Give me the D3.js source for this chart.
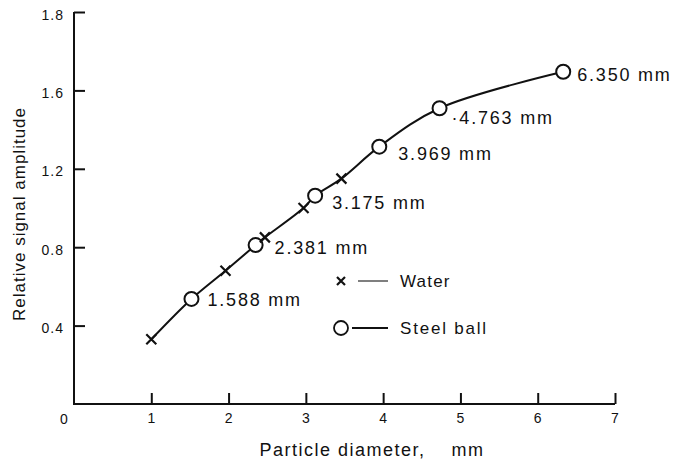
<!DOCTYPE html>
<html>
<head>
<meta charset="utf-8">
<script src="https://cdn.jsdelivr.net/npm/d3@7"></script>
<style>
  body { margin: 0; background: #fff; }
  svg { display: block; font-family: "Liberation Sans", Arial, sans-serif; }
  text { fill: #111; }
</style>
</head>
<body>
<svg width="675" height="463"></svg>
<script>
// Water (x marks): particle diameter vs relative amplitude
const waterX = [1.0, 1.96, 2.47, 2.97, 3.46];
const waterY = [0.33, 0.68, 0.85, 1.0, 1.15];

// Steel balls (circles)
const steelX = [1.52, 2.35, 3.12, 3.95, 4.73, 6.33];
const steelY = [0.536, 0.811, 1.063, 1.313, 1.509, 1.695];
const steelLabels = ["1.588 mm", "2.381 mm", "3.175 mm", "3.969 mm", "\u00b74.763 mm", "6.350 mm"];

const xTicks = [1, 2, 3, 4, 5, 6, 7];
const yTicks = [0.4, 0.8, 1.2, 1.6, 2.0];
const yTickLabels = ["0.4", "0.8", "1.2", "1.6", "1.8"];

const svg = d3.select("svg");

const x = d3.scaleLinear().domain([0, 7]).range([74, 615]);
const y = d3.scaleLinear().domain([0, 2]).range([404, 12]);

// Axes
const xAxis = svg.append("g")
  .attr("transform", `translate(0, ${y(0)})`)
  .call(d3.axisBottom(x).tickValues(xTicks).tickSizeInner(-11).tickSizeOuter(0).tickPadding(9).tickFormat(d3.format("d")));
const yAxis = svg.append("g")
  .attr("transform", `translate(${x(0)}, 0)`)
  .call(d3.axisLeft(y).tickValues(yTicks).tickSizeInner(-11).tickSizeOuter(0).tickPadding(10)
    .tickFormat((d, i) => yTickLabels[i]));

[xAxis, yAxis].forEach(a => {
  a.select(".domain").remove();
  a.selectAll(".tick line").attr("stroke", "#111").attr("stroke-width", 2);
  a.selectAll(".tick text").attr("font-size", 14).attr("letter-spacing", 1).attr("fill", "#111")
    .attr("font-family", "Liberation Sans, Arial, sans-serif");
});
yAxis.selectAll(".tick text").attr("dy", "0.5em");

// Axis lines
svg.append("path")
  .attr("d", `M${x(0)},${y(2)}V${y(0)}H${x(7)}`)
  .attr("fill", "none").attr("stroke", "#111").attr("stroke-width", 2);

// origin label
svg.append("text")
  .attr("x", x(0) - 10).attr("y", y(0) + 15)
  .attr("text-anchor", "middle").attr("dy", "0.35em")
  .attr("font-size", 14).text("0");

// Axis titles
svg.append("text")
  .attr("x", 372).attr("y", 456)
  .attr("text-anchor", "middle")
  .attr("font-size", 18).attr("letter-spacing", 1.5)
  .style("white-space", "pre")
  .text("Particle diameter,    mm");

svg.append("text")
  .attr("transform", "translate(25, 214) rotate(-90)")
  .attr("text-anchor", "middle")
  .attr("font-size", 17).attr("letter-spacing", 1.0)
  .text("Relative signal amplitude");

// Curve through all points
const allPts = waterX.map((d, i) => [d, waterY[i]])
  .concat(steelX.map((d, i) => [d, steelY[i]]))
  .sort((a, b) => a[0] - b[0]);

const line = d3.line()
  .x(d => x(d[0])).y(d => y(d[1]))
  .curve(d3.curveCatmullRom.alpha(0.5));

svg.append("path")
  .datum(allPts)
  .attr("d", line)
  .attr("fill", "none").attr("stroke", "#111").attr("stroke-width", 2);

// Steel circles
svg.selectAll(".steel")
  .data(steelX)
  .enter().append("circle")
  .attr("class", "steel")
  .attr("cx", d => x(d)).attr("cy", (d, i) => y(steelY[i]))
  .attr("r", 7)
  .attr("fill", "#fff").attr("stroke", "#111").attr("stroke-width", 2);

// Water x marks
const xMark = s => `M${-s},${-s}L${s},${s}M${-s},${s}L${s},${-s}`;
svg.selectAll(".water")
  .data(waterX)
  .enter().append("path")
  .attr("class", "water")
  .attr("transform", (d, i) => `translate(${x(d)}, ${y(waterY[i])})`)
  .attr("d", xMark(5))
  .attr("stroke", "#111").attr("stroke-width", 2.2).attr("fill", "none");

// Labels beside circles
const labelOffsets = [[16, 1], [19, 3], [17, 7], [19, 7], [12, 9], [14, 3]];
svg.selectAll(".lbl")
  .data(steelLabels)
  .enter().append("text")
  .attr("class", "lbl")
  .attr("x", (d, i) => x(steelX[i]) + labelOffsets[i][0])
  .attr("y", (d, i) => y(steelY[i]) + labelOffsets[i][1])
  .attr("dy", "0.35em")
  .attr("font-size", 18).attr("letter-spacing", 1.8)
  .text(d => d);

// Legend
const legend = svg.append("g");
legend.append("path")
  .attr("transform", "translate(341, 281)")
  .attr("d", xMark(4))
  .attr("stroke", "#111").attr("stroke-width", 2.2);
legend.append("line")
  .attr("x1", 358).attr("x2", 388).attr("y1", 281).attr("y2", 281)
  .attr("stroke", "#555").attr("stroke-width", 1.5);
legend.append("text")
  .attr("x", 400).attr("y", 281).attr("dy", "0.35em")
  .attr("font-size", 17).attr("letter-spacing", 1.2)
  .text("Water");

legend.append("circle")
  .attr("cx", 341).attr("cy", 328).attr("r", 7)
  .attr("fill", "#fff").attr("stroke", "#111").attr("stroke-width", 1.8);
legend.append("line")
  .attr("x1", 352).attr("x2", 388).attr("y1", 328).attr("y2", 328)
  .attr("stroke", "#111").attr("stroke-width", 2);
legend.append("text")
  .attr("x", 400).attr("y", 328).attr("dy", "0.35em")
  .attr("font-size", 17).attr("letter-spacing", 1.8)
  .text("Steel ball");
</script>
</body>
</html>
